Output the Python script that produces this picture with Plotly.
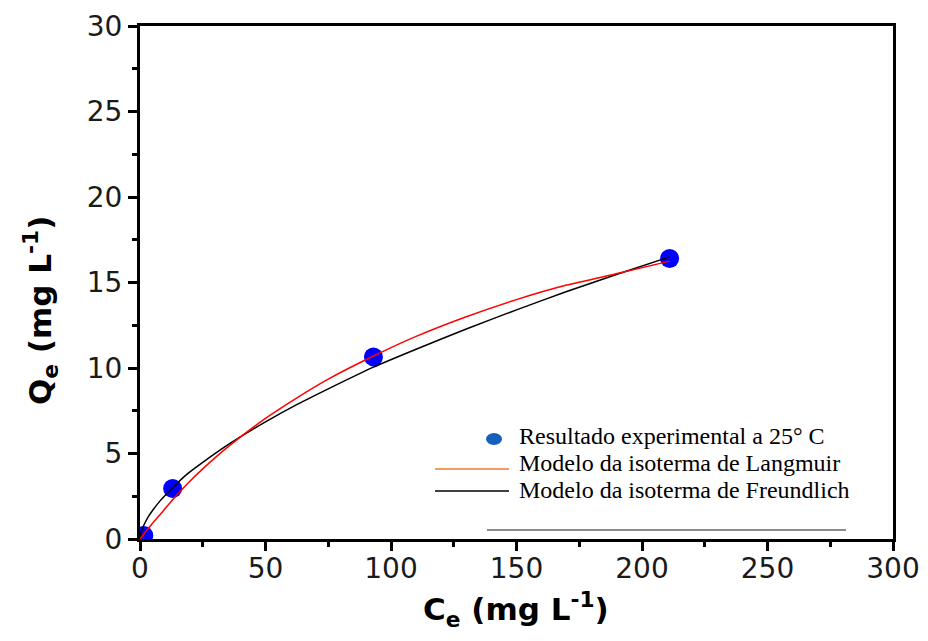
import plotly.graph_objects as go

# Experimental points
ce_exp = [1.5, 13, 93, 211]
qe_exp = [0.2, 2.95, 10.65, 16.4]

# Langmuir model curve
ce_lang = [0, 2, 5, 9, 13, 19, 25, 36, 50, 63, 75, 93, 110, 130, 150, 170, 191, 211]
qe_lang = [0, 0.38, 0.92, 1.6, 2.3, 3.25, 4.1, 5.5, 7.05, 8.3, 9.35, 10.7, 11.85, 13.0, 14.0, 14.85, 15.55, 16.25]

# Freundlich model curve
ce_freu = [0, 0.2, 0.5, 1, 2, 3.5, 5, 8, 13, 19, 25, 36, 50, 63, 75, 93, 110, 130, 150, 170, 191, 211]
qe_freu = [0, 0.23, 0.41, 0.63, 0.95, 1.35, 1.67, 2.23, 3.0, 3.82, 4.48, 5.6, 6.85, 7.9, 8.78, 10.05, 11.1, 12.28, 13.4, 14.47, 15.53, 16.5]

legend_labels = ["Resultado experimental a 25° C",
                 "Modelo da isoterma de Langmuir",
                 "Modelo da isoterma de Freundlich"]

fig = go.Figure()
fig.add_trace(go.Scatter(x=ce_exp, y=qe_exp, mode="markers",
                         marker=dict(color="#0000ff", size=19, line=dict(width=0)),
                         showlegend=False))
fig.add_trace(go.Scatter(x=ce_freu, y=qe_freu, mode="lines",
                         line=dict(color="#000000", width=1.5, shape="spline", smoothing=0.6),
                         showlegend=False))
fig.add_trace(go.Scatter(x=ce_lang, y=qe_lang, mode="lines",
                         line=dict(color="#ff0000", width=1.5, shape="spline", smoothing=0.6),
                         showlegend=False))

axis_common = dict(showline=True, linecolor="black", linewidth=3, mirror=True,
                   ticks="outside", ticklen=9, tickwidth=3, tickcolor="black",
                   showgrid=False, zeroline=False, automargin=False,
                   tickfont=dict(family="DejaVu Sans", size=28, color="#1a1a1a"))

fig.update_xaxes(range=[0, 300], dtick=50, tick0=0, ticklabelstandoff=-7,
                 minor=dict(ticks="outside", ticklen=5, tickwidth=3, tickcolor="black", dtick=25),
                 **axis_common)
fig.update_yaxes(range=[0, 30], dtick=5, tick0=0,
                 minor=dict(ticks="outside", ticklen=5, tickwidth=3, tickcolor="black", dtick=2.5),
                 **axis_common)

# Legend drawn manually (annotations + shapes)
serif = dict(family="Liberation Serif, Times New Roman", size=24, color="black")
row_y = [436, 463, 490]
W, H = 928, 641
l, r, t, b = 140, 35, 26, 102
pw, ph = W - l - r, H - t - b

def px(xp):
    return (xp - l) / pw

def py(yp):
    return 1 - (yp - t) / ph

annotations = []
for lab, yy in zip(legend_labels, row_y):
    annotations.append(dict(x=px(517), y=py(yy), xref="paper", yref="paper",
                            text=lab, showarrow=False, xanchor="left", yanchor="middle",
                            font=serif))

title_font = dict(family="DejaVu Sans", size=31, color="black")
annotations.append(dict(x=px(40), y=py(311), xref="paper", yref="paper",
                        text="<b>Q<sub>e</sub> (mg L<sup>-1</sup>)</b>", showarrow=False,
                        textangle=-90, xanchor="center", yanchor="middle",
                        font=title_font))
annotations.append(dict(x=px(516), y=py(609), xref="paper", yref="paper",
                        text="<b>C<sub>e</sub> (mg L<sup>-1</sup>)</b>", showarrow=False,
                        xanchor="center", yanchor="middle",
                        font=title_font))

shapes = [
    dict(type="circle", xref="paper", yref="paper",
         x0=px(486), x1=px(502), y0=py(445), y1=py(433),
         fillcolor="#1560bd", line=dict(width=0)),
    dict(type="line", xref="paper", yref="paper",
         x0=px(435), x1=px(509), y0=py(469), y1=py(469),
         line=dict(color="#f47a30", width=1.5)),
    dict(type="line", xref="paper", yref="paper",
         x0=px(435), x1=px(509), y0=py(491), y1=py(491),
         line=dict(color="#000000", width=1.5)),
    dict(type="line", xref="paper", yref="paper",
         x0=px(487), x1=px(846), y0=py(530), y1=py(530),
         line=dict(color="#8c8c8c", width=2)),
]

fig.update_layout(width=W, height=H, margin=dict(l=l, r=r, t=t, b=b),
                  paper_bgcolor="white", plot_bgcolor="white",
                  annotations=annotations, shapes=shapes, showlegend=False)

fig.write_html("out.html")
